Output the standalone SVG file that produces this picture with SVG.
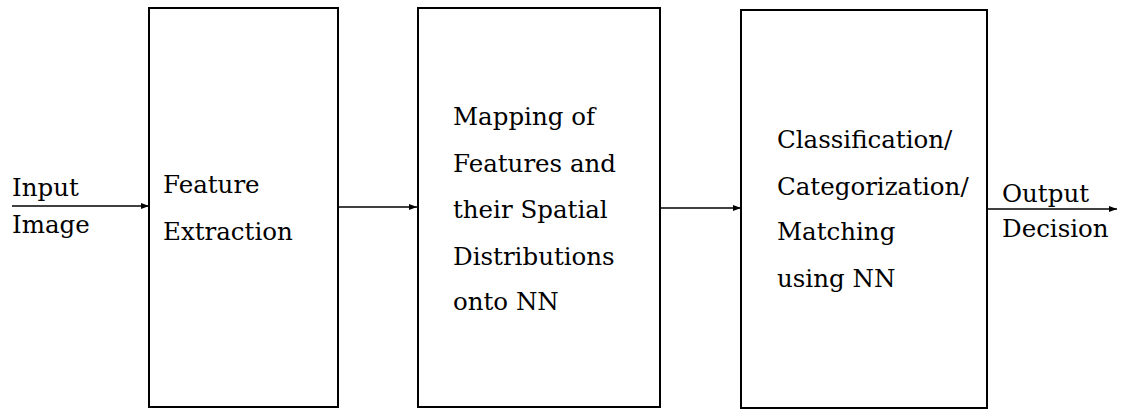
<svg xmlns="http://www.w3.org/2000/svg" width="1123" height="412" viewBox="0 0 1123 412">
<defs>
<style>
.box{fill:#fff;stroke:#000;stroke-width:2}
.t{font-family:"DejaVu Serif","Liberation Serif",serif;font-size:24.5px;fill:#000}
.c{stroke:#000;stroke-width:1.6;fill:none}
</style>
<marker id="ah" viewBox="0 0 8 6" refX="8" refY="3" markerWidth="8" markerHeight="6" markerUnits="userSpaceOnUse" orient="auto">
<path d="M0,0 L8,3 L0,6 z" fill="#000"/>
</marker>
</defs>
<rect width="1123" height="412" fill="#fff"/>
<g id="connectors">
<line class="c" x1="12" y1="206" x2="149" y2="206" marker-end="url(#ah)"/>
<line class="c" x1="338" y1="207" x2="417" y2="207" marker-end="url(#ah)"/>
<line class="c" x1="660" y1="208" x2="741" y2="208" marker-end="url(#ah)"/>
<line class="c" x1="987" y1="209" x2="1117" y2="209" marker-end="url(#ah)"/>
</g>
<g id="input">
<text class="t" x="12" y="196">Input</text>
<text class="t" x="12" y="233">Image</text>
</g>
<g id="feature-extraction">
<rect class="box" x="149" y="8" width="189" height="399"/>
<text class="t" x="163" y="193">Feature</text>
<text class="t" x="163" y="240">Extraction</text>
</g>
<g id="mapping">
<rect class="box" x="418" y="8" width="242" height="399"/>
<text class="t" x="453" y="125">Mapping of</text>
<text class="t" x="453" y="172">Features and</text>
<text class="t" x="453" y="218">their Spatial</text>
<text class="t" x="453" y="265">Distributions</text>
<text class="t" x="453" y="310">onto NN</text>
</g>
<g id="classification">
<rect class="box" x="741" y="10" width="246" height="398"/>
<text class="t" x="777" y="148">Classification/</text>
<text class="t" x="777" y="195">Categorization/</text>
<text class="t" x="777" y="240">Matching</text>
<text class="t" x="777" y="287">using NN</text>
</g>
<g id="output">
<text class="t" x="1002" y="202">Output</text>
<text class="t" x="1002" y="237">Decision</text>
</g>
</svg>
